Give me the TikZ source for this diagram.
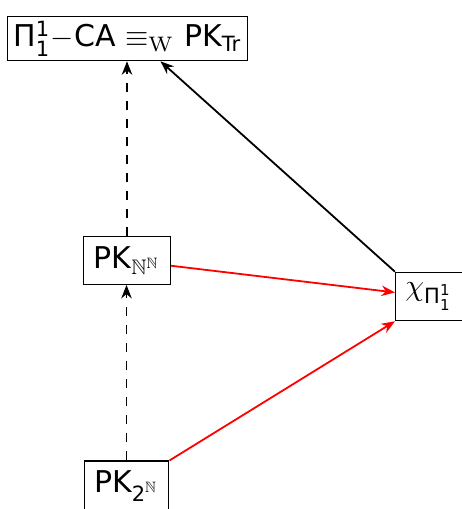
\documentclass[tikz,border=0pt]{standalone}
\usepackage{amsmath, amssymb}
\usepackage[no-math]{fontspec}
\setmainfont{DejaVu Sans}
\usetikzlibrary{arrows.meta}
\definecolor{arrR}{RGB}{255,0,0}
\tikzset{
  pkbox/.style={draw, thin, inner sep=3.3pt},
  impl/.style={-{Stealth[length=4.5pt, width=3.5pt]}, semithick},
  weak/.style={-{Stealth[length=4.5pt, width=3.5pt]}, thin, dashed, dash pattern=on 3pt off 3pt}
}

\begin{document}
\begin{tikzpicture}[x=0.3333pt, y=-0.3333pt]
\useasboundingbox (0,0) rectangle (461,509);
% the four principles
\node[pkbox, inner xsep=2pt, inner ysep=1.5pt] (ca) at (127.5,38.5) {Π$^{\text{1}}_{\text{1}}$$-$CA $\equiv_{\mathrm{W}}$ PK$_{\text{Tr}}$};
\node[pkbox] (pkbaire) at (127,260.5) {PK$_{\mathbb{N}^{\mathbb{N}}}$};
\node[pkbox] (chi) at (429,296.5) {$\chi_{\text{Π}^{\text{1}}_{\text{1}}}$};
\node[pkbox] (pkcantor) at (126.5,486) {PK$_{\text{2}^{\mathbb{N}}}$};
% dashed implications up the left column
\draw[weak] (pkbaire) -- (ca.south -| pkbaire);
\draw[weak] (pkcantor) -- (pkbaire.south -| pkcantor);
% reductions to chi
\draw[impl, arrR] (pkbaire) -- (chi);
\draw[impl, arrR] (pkcantor.north east) -- (chi.south west);
\draw[impl] (chi.north west) -- ([xshift=11pt]ca.south);
\end{tikzpicture}
\end{document}
